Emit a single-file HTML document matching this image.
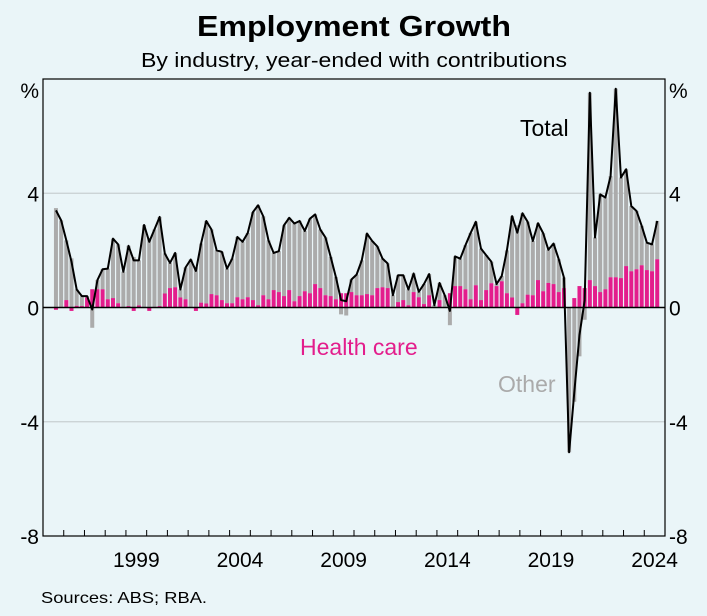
<!DOCTYPE html>
<html><head><meta charset="utf-8">
<style>
html,body{margin:0;padding:0;background:#eaf5f8;}
body{width:707px;height:611px;overflow:hidden;font-family:"Liberation Sans",sans-serif;}
</style></head>
<body>
<svg id="chart" width="707" height="611" xmlns="http://www.w3.org/2000/svg" font-family="Liberation Sans, sans-serif">
<rect x="0" y="0" width="707" height="611" fill="#eaf5f8"/>
<text x="197" y="36" font-size="29" font-weight="bold" textLength="314" lengthAdjust="spacingAndGlyphs">Employment Growth</text>
<text x="141" y="67" font-size="20" textLength="426" lengthAdjust="spacingAndGlyphs">By industry, year-ended with contributions</text>
<g id="grid"></g>
<g id="bars"></g>
<g id="line"></g>
<g id="axes"></g>
<text x="520" y="136" font-size="23" fill="#000">Total</text>
<text x="300" y="355" font-size="23" fill="#e31d8c">Health care</text>
<text x="498" y="392" font-size="23" fill="#aaaaaa">Other</text>
<text x="41" y="603" font-size="16" textLength="166" lengthAdjust="spacingAndGlyphs">Sources: ABS; RBA.</text>
</svg>
<script>
const total = [3.40,3.05,2.35,1.6,0.63,0.4,0.4,-0.07,0.96,1.34,1.36,2.41,2.21,1.25,2.16,1.65,1.65,2.89,2.3,2.73,3.17,1.89,1.56,1.91,0.63,1.4,1.68,1.28,2.24,3.03,2.73,2.0,1.95,1.36,1.71,2.47,2.3,2.61,3.34,3.58,3.19,2.35,1.91,1.97,2.88,3.14,2.94,3.03,2.68,3.11,3.26,2.73,2.45,1.77,1.07,0.26,0.22,0.98,1.15,1.65,2.59,2.33,2.14,1.71,1.54,0.43,1.13,1.13,0.63,1.19,0.55,0.82,1.17,0.08,0.86,0.43,-0.12,1.79,1.71,2.18,2.61,3.0,2.06,1.83,1.6,0.82,1.1,2.0,3.2,2.62,3.3,3.0,2.33,2.95,2.6,2.02,2.24,1.69,1.05,-5.07,-2.97,-0.96,0.25,7.52,2.45,3.96,3.85,4.6,7.66,4.55,4.84,3.55,3.38,2.86,2.27,2.21,3.03];
const health = [-0.08,0.02,0.26,-0.12,0.06,0.05,0.35,0.64,0.64,0.64,0.29,0.33,0.15,0.02,0.05,-0.12,0.07,0.0,-0.12,0.02,0.05,0.49,0.68,0.71,0.35,0.29,0.0,-0.12,0.17,0.14,0.47,0.43,0.26,0.15,0.15,0.36,0.29,0.36,0.26,0.08,0.43,0.29,0.61,0.54,0.4,0.61,0.22,0.4,0.57,0.5,0.82,0.68,0.43,0.4,0.29,0.5,0.5,0.54,0.43,0.43,0.47,0.43,0.68,0.71,0.68,0.02,0.19,0.26,0.08,0.54,0.36,0.12,0.43,0.0,0.26,0.02,0.5,0.75,0.75,0.64,0.29,0.78,0.26,0.61,0.85,0.75,0.92,0.5,0.35,-0.26,0.15,0.45,0.43,0.96,0.57,0.86,0.82,0.54,0.68,0.0,0.33,0.75,0.68,0.96,0.75,0.54,0.64,1.06,1.06,1.03,1.45,1.27,1.34,1.48,1.31,1.27,1.69];
const yTicks = [4,0,-4,-8];
const yTickLabels = ["4","0","-4","-8"];
const yearLabels = ["1999","2004","2009","2014","2019","2024"];
const yearValues = [1999,2004,2009,2014,2019,2024];
const startYear = 1995, endYear = 2025, firstQuarterIndex = 2;

const NS = "http://www.w3.org/2000/svg";
const L = 43, R = 665, T = 79, B = 536, yMin = -8, yMax = 8;
const qw = (R - L) / ((endYear - startYear) * 4);
function yS(v){ return B - (v - yMin) / (yMax - yMin) * (B - T); }
function xQ(i){ return L + (i + 0.5) * qw; }
function xYear(y){ return L + (y - startYear + 0.5) * (R - L) / (endYear - startYear); }
function mk(tag, attrs, parent){ const e = document.createElementNS(NS, tag); for (const k in attrs) e.setAttribute(k, attrs[k]); parent.appendChild(e); return e; }

const grid = document.getElementById('grid');
yTicks.forEach((v) => {
  if (v === 0 || v === yMin) return;
  const g = mk('line', {x1:L, x2:R, y1:yS(v), y2:yS(v), stroke:'#c8cfd2', 'stroke-width':1.2}, grid);
  
  
});

const bars = document.getElementById('bars');
const bw = 4;
total.forEach((t, k) => {
  const i = k + firstQuarterIndex;
  const h = health[k];
  const o = t - h;
  const x = xQ(i) - bw / 2;
  let pos = 0, neg = 0;
  const hb = h >= 0 ? [pos, pos + h] : [neg + h, neg];
  if (h >= 0) pos += h; else neg += h;
  const ob = o >= 0 ? [pos, pos + o] : [neg + o, neg];
  const r1 = mk('rect', {x:x, width:bw, y:yS(ob[1]), height:Math.max(0, yS(ob[0]) - yS(ob[1])), fill:'#ababab'}, bars);
  
  
  const r2 = mk('rect', {x:x, width:bw, y:yS(hb[1]), height:Math.max(0, yS(hb[0]) - yS(hb[1])), fill:'#e31d8c'}, bars);
  
  
});

const zl = mk('line', {x1:L, x2:R, y1:yS(0), y2:yS(0), stroke:'#000', 'stroke-width':1.5}, grid.parentNode);


bars.parentNode.insertBefore(zl, document.getElementById('line'));

const lineG = document.getElementById('line');
const pts = total.map((t, k) => xQ(k + firstQuarterIndex).toFixed(2) + ',' + yS(t).toFixed(2)).join(' ');
const pl = mk('polyline', {points:pts, fill:'none', stroke:'#000', 'stroke-width':2, 'stroke-linejoin':'round'}, lineG);



const axes = document.getElementById('axes');
const frame = mk('rect', {x:L, y:T, width:R - L, height:B - T, fill:'none', stroke:'#000', 'stroke-width':1.2}, axes);


for (let y = startYear + 1; y < endYear; y++) {
  const xx = L + (y - startYear) * (R - L) / (endYear - startYear);
  const tk = mk('line', {x1:xx, x2:xx, y1:B, y2:B - 6, stroke:'#000', 'stroke-width':1}, axes);
  
  
}
yearLabels.forEach((lab, j) => {
  const t = mk('text', {x:xYear(yearValues[j]), y:567, 'font-size':21, 'text-anchor':'middle'}, axes);
  t.textContent = lab;
  
  
});
yTicks.forEach((v, j) => {
  const a = mk('text', {x:L - 4, y:yS(v) + 8, 'font-size':21, 'text-anchor':'end'}, axes);
  a.textContent = yTickLabels[j];
  
  
  const b = mk('text', {x:R + 4, y:yS(v) + 8, 'font-size':21, 'text-anchor':'start'}, axes);
  b.textContent = yTickLabels[j];
  
  
});
const pu1 = mk('text', {x:L - 4, y:T + 19, 'font-size':21, 'text-anchor':'end'}, axes);
pu1.textContent = '%';


const pu2 = mk('text', {x:R + 4, y:T + 19, 'font-size':21, 'text-anchor':'start'}, axes);
pu2.textContent = '%';


</script>
</body></html>
